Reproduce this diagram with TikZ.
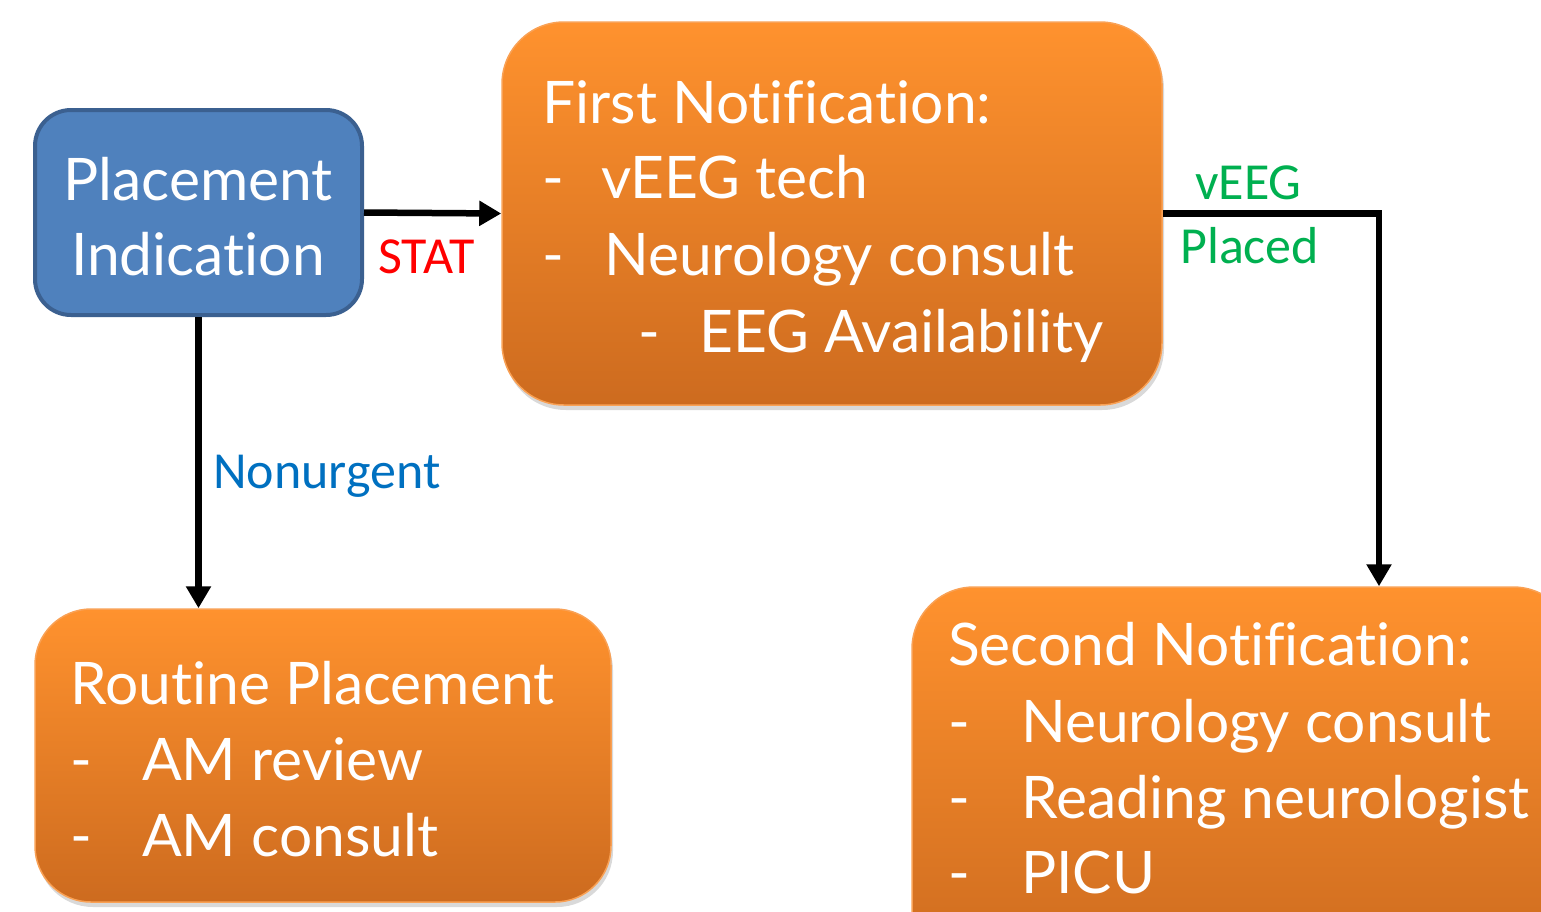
\documentclass[tikz,border=0pt]{standalone}
\usepackage{fontspec}
\setmainfont[Ligatures=NoCommon]{Lato}
\newfontfamily\lblfont{Carlito}
\usetikzlibrary{arrows.meta,shadows}
\definecolor{bluefill}{HTML}{4F81BD}
\definecolor{blueline}{HTML}{3B6090}
\definecolor{orTop}{HTML}{FF922E}
\definecolor{orBot}{HTML}{CD6B1F}
\definecolor{orLine}{HTML}{F9A155}
\definecolor{statred}{HTML}{FF0000}
\definecolor{nonblue}{HTML}{0070C0}
\definecolor{placegreen}{HTML}{00B050}
\tikzset{
  bluebox/.style={rectangle, rounded corners=36pt, fill=bluefill, draw=blueline, line width=4pt, inner sep=0pt},
  orbox/.style={rectangle, inner sep=0pt, top color=orTop, bottom color=orBot, draw=orLine, line width=1.5pt,
     drop shadow={opacity=0.3, shadow xshift=2pt, shadow yshift=-5pt}},
  boxtext/.style={anchor=base west, inner sep=0pt, text=white, font=\fontsize{58.7}{72}\selectfont},
  bluetext/.style={anchor=base, inner sep=0pt, text=white, font=\fontsize{58.7}{72}\selectfont},
  lbl/.style={anchor=base west, inner sep=0pt, font=\lblfont\fontsize{52}{60}\selectfont},
  arr/.style={line width=6.5pt, -{Triangle[length=22pt,width=24pt]}},
}
\newcommand{\dsh}[1]{\makebox[#1][l]{-}}
\begin{document}
\begin{tikzpicture}[x=1pt,y=-1pt]
\useasboundingbox (0,0) rectangle (1541,911);
% boxes
\node[bluebox, minimum width=327pt, minimum height=205pt] (pi) at (198.5,212.5) {};
\node[orbox, rounded corners=62pt, minimum width=660pt, minimum height=383pt] (first) at (832,213.5) {};
\node[orbox, rounded corners=56pt, minimum width=576pt, minimum height=293pt] (routine) at (323,755.5) {};
\node[orbox, rounded corners=62pt, minimum width=663pt, minimum height=383pt] (second) at (1243.5,778.5) {};
% texts
\node[bluetext] (pi1) at (198,200) {Placement};
\node[bluetext] (pi2) at (198,275) {Indication};
\node[boxtext] (f1) at (542,123) {First Notification:};
\node[boxtext] (f2) at (542,198) {\dsh{59pt}vEEG tech};
\node[boxtext] (f3) at (542,275) {\dsh{62pt}Neurology consult};
\node[boxtext] (f4) at (638,352) {\dsh{61pt}EEG Availability};
\node[boxtext] (r1) at (70,704) {Routine Placement};
\node[boxtext] (r2) at (70,780) {\dsh{72pt}AM review};
\node[boxtext] (r3) at (70,856) {\dsh{72pt}AM consult};
\node[boxtext] (s1) at (948,665) {Second Notification:};
\node[boxtext] (s2) at (948,742) {\dsh{73pt}Neurology consult};
\node[boxtext] (s3) at (948,818) {\dsh{73pt}Reading neurologist};
\node[boxtext] (s4) at (948,893) {\dsh{73pt}PICU};
% connectors
\draw[arr] (pi.east) -- (first.west);
\draw[arr] (pi.south) -- (pi.south |- routine.north);
\coordinate (sin) at ([xshift=135.5pt]second.north);
\draw[arr] (first.east) -| (sin);
% labels
\node[lbl, text=statred] (stat) at (378,273) {STAT};
\node[lbl, text=nonblue] (nonurg) at (213,488) {Nonurgent};
\node[lbl, text=placegreen] (veeg) at (1195,199) {vEEG};
\node[lbl, text=placegreen] (placed) at (1180,263) {Placed};
\end{tikzpicture}
\end{document}
